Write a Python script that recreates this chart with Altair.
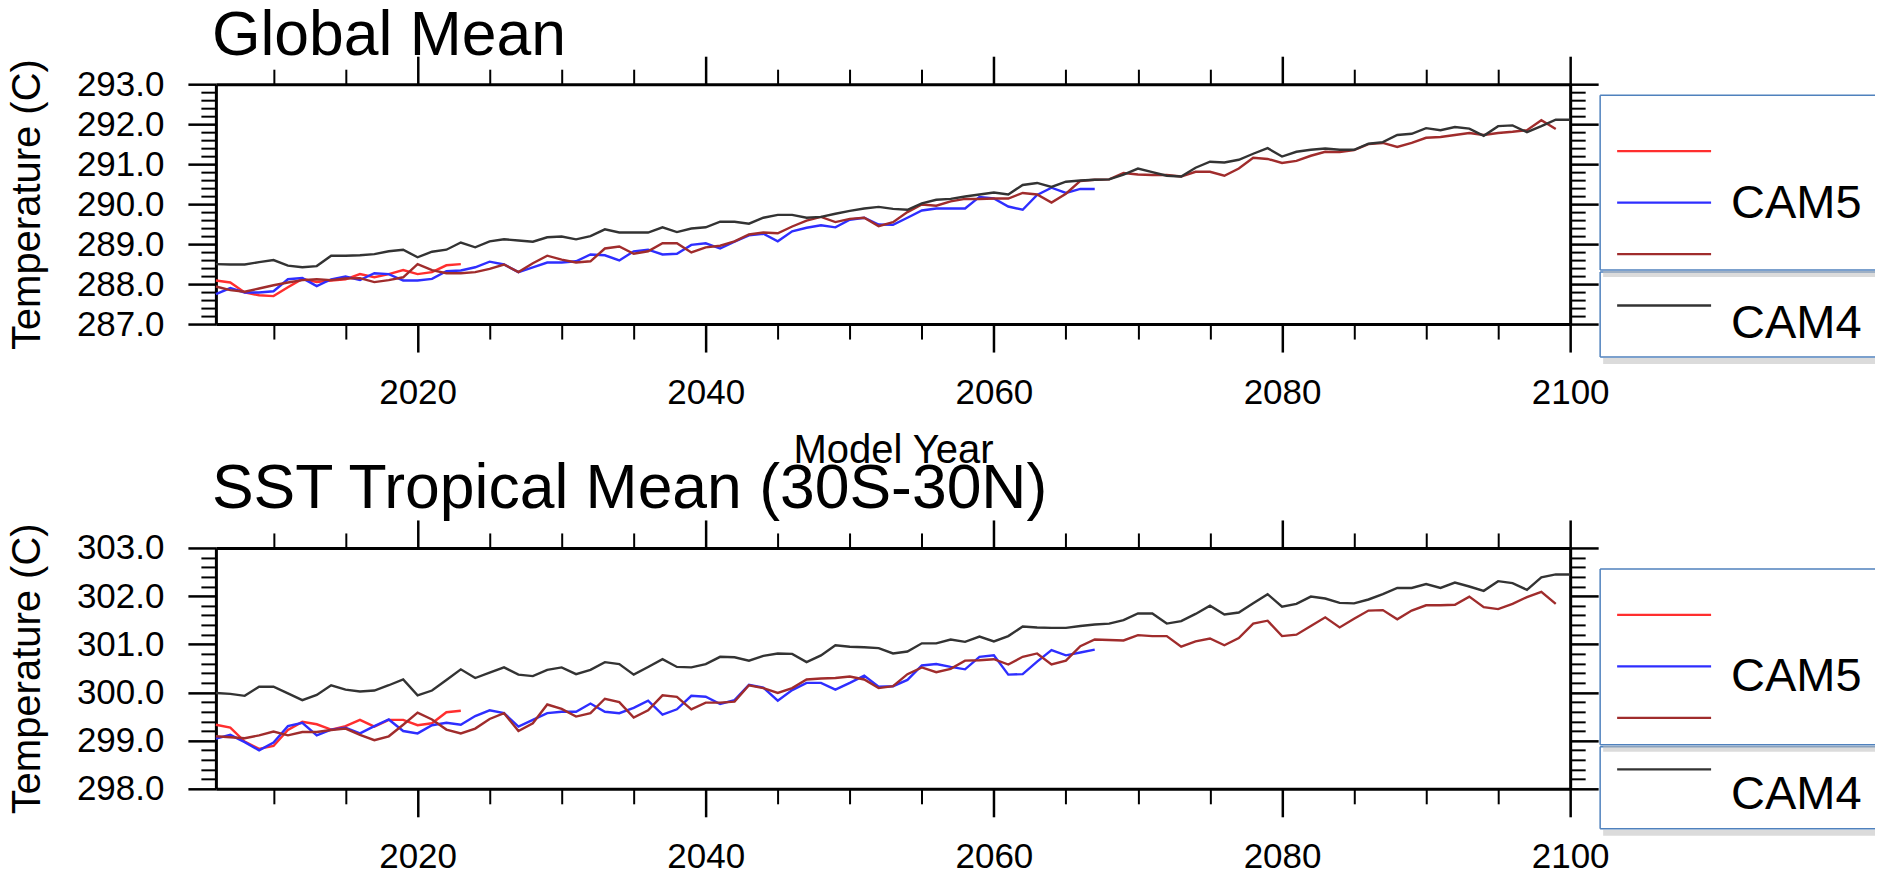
import altair as alt
import pandas as pd

FONT = "Liberation Sans"
FIRST_YEAR = 2006
X_DOMAIN = [2006, 2100]
X_MAJOR = [2020, 2040, 2060, 2080, 2100]
X_MINOR = [2010, 2015, 2025, 2030, 2035, 2045, 2050, 2055, 2065, 2070, 2075, 2085, 2090, 2095]

GM_DOMAIN = [287, 293]
GM_MAJOR = [287, 288, 289, 290, 291, 292, 293]
SST_DOMAIN = [298, 303]
SST_MAJOR = [298, 299, 300, 301, 302, 303]

RUN_NAMES = ["CAM5 run 1", "CAM5 run 2", "CAM5 run 3"]
CAM5_COLORS = ["#ff2e2e", "#2e2eff", "#a02c2c"]
CAM4_NAME = "CAM4"
CAM4_COLOR = "#333333"
BOX_COLOR = "#4f81bd"

# legend content (one entry per plotted run, in drawing order)
LEGEND_SLOTS = [0, 1, 2, 3]
LEGEND_COLORS = CAM5_COLORS + [CAM4_COLOR]
LEGEND_TEXT = ["CAM5", "CAM4"]

# ---------------- Global Mean (years from 2006) ----------------
gm_cam5_red = [288.09, 288.04, 287.79, 287.72, 287.70, 287.92, 288.13, 288.05, 288.09, 288.12,
               288.25, 288.17, 288.25, 288.35, 288.25, 288.30, 288.47, 288.50]
gm_cam5_blue = [287.75, 287.90, 287.79, 287.79, 287.82, 288.12, 288.15, 287.95, 288.12, 288.19,
                288.10, 288.27, 288.25, 288.09, 288.09, 288.13, 288.32, 288.34, 288.42, 288.56,
                288.49, 288.30, 288.42, 288.54, 288.54, 288.57, 288.74, 288.72, 288.59, 288.82,
                288.86, 288.74, 288.76, 288.98, 289.02, 288.89, 289.06, 289.22, 289.26, 289.07,
                289.32, 289.41, 289.47, 289.42, 289.61, 289.66, 289.49, 289.48, 289.66, 289.84,
                289.89, 289.89, 289.89, 290.18, 290.14, 289.94, 289.86, 290.23, 290.41, 290.28,
                290.38, 290.38]
gm_cam5_brown = [287.94, 287.85, 287.81, 287.89, 287.97, 288.04, 288.10, 288.12, 288.10, 288.14,
                 288.15, 288.05, 288.10, 288.17, 288.50, 288.35, 288.27, 288.27, 288.30, 288.38,
                 288.49, 288.30, 288.52, 288.71, 288.61, 288.54, 288.57, 288.89, 288.94, 288.76,
                 288.82, 289.02, 289.02, 288.79, 288.92, 288.96, 289.07, 289.24, 289.29, 289.27,
                 289.44, 289.59, 289.68, 289.55, 289.63, 289.66, 289.45, 289.55, 289.80, 289.99,
                 289.96, 290.07, 290.13, 290.13, 290.14, 290.14, 290.28, 290.24, 290.04, 290.26,
                 290.58, 290.61, 290.62, 290.78, 290.74, 290.73, 290.73, 290.69, 290.81, 290.81,
                 290.71, 290.89, 291.16, 291.13, 291.03, 291.08, 291.21, 291.31, 291.30, 291.35,
                 291.50, 291.53, 291.43, 291.53, 291.66, 291.68, 291.73, 291.78, 291.73, 291.78,
                 291.81, 291.85, 292.10, 291.88]
gm_cam4 = [288.50, 288.49, 288.49, 288.55, 288.60, 288.46, 288.42, 288.45, 288.71, 288.71,
           288.72, 288.75, 288.82, 288.86, 288.67, 288.81, 288.86, 289.04, 288.92, 289.07,
           289.12, 289.09, 289.06, 289.17, 289.19, 289.12, 289.20, 289.37, 289.29, 289.29,
           289.29, 289.42, 289.30, 289.39, 289.42, 289.56, 289.56, 289.51, 289.66, 289.73,
           289.73, 289.66, 289.68, 289.76, 289.83, 289.89, 289.93, 289.88, 289.86, 290.02,
           290.11, 290.13, 290.19, 290.24, 290.29, 290.24, 290.48, 290.53, 290.43, 290.56,
           290.59, 290.61, 290.62, 290.74, 290.89, 290.80, 290.71, 290.69, 290.91, 291.06,
           291.04, 291.11, 291.26, 291.40, 291.19, 291.31, 291.36, 291.39, 291.36, 291.36,
           291.51, 291.55, 291.73, 291.76, 291.90, 291.85, 291.93, 291.89, 291.71, 291.95,
           291.97, 291.80, 291.95, 292.11, 292.11]

# ---------------- SST Tropical Mean (years from 2006) ----------------
sst_cam5_red = [299.33, 299.27, 298.98, 298.83, 298.89, 299.22, 299.39, 299.34, 299.23, 299.30,
                299.43, 299.29, 299.43, 299.43, 299.32, 299.36, 299.59, 299.62]
sst_cam5_blue = [299.04, 299.12, 298.97, 298.80, 298.96, 299.30, 299.37, 299.11, 299.23, 299.27,
                 299.15, 299.30, 299.44, 299.20, 299.15, 299.32, 299.37, 299.33, 299.51, 299.63,
                 299.57, 299.29, 299.43, 299.57, 299.60, 299.60, 299.77, 299.60, 299.57, 299.68,
                 299.83, 299.54, 299.65, 299.93, 299.91, 299.76, 299.84, 300.16, 300.10, 299.83,
                 300.05, 300.20, 300.20, 300.06, 300.20, 300.35, 300.12, 300.13, 300.26, 300.56,
                 300.59, 300.53, 300.48, 300.74, 300.77, 300.37, 300.38, 300.64, 300.88, 300.77,
                 300.83, 300.89]
sst_cam5_brown = [299.09, 299.07, 299.05, 299.11, 299.19, 299.11, 299.18, 299.18, 299.22, 299.25,
                  299.12, 299.01, 299.09, 299.33, 299.58, 299.44, 299.23, 299.15, 299.25, 299.45,
                  299.57, 299.20, 299.36, 299.75, 299.66, 299.50, 299.57, 299.87, 299.80, 299.48,
                  299.63, 299.94, 299.91, 299.65, 299.79, 299.79, 299.81, 300.15, 300.09, 299.99,
                  300.09, 300.27, 300.29, 300.30, 300.33, 300.27, 300.09, 300.13, 300.38, 300.52,
                  300.42, 300.49, 300.66, 300.67, 300.69, 300.58, 300.74, 300.81, 300.58, 300.66,
                  300.96, 301.10, 301.09, 301.08, 301.19, 301.17, 301.17, 300.95, 301.06, 301.12,
                  300.98, 301.13, 301.43, 301.49, 301.17, 301.20, 301.38, 301.56, 301.35, 301.53,
                  301.70, 301.71, 301.52, 301.70, 301.81, 301.81, 301.82, 301.99, 301.77, 301.73,
                  301.84, 301.98, 302.09, 301.84]
sst_cam4 = [299.99, 299.97, 299.93, 300.12, 300.12, 299.98, 299.84, 299.95, 300.15, 300.06,
            300.02, 300.04, 300.15, 300.27, 299.94, 300.04, 300.26, 300.48, 300.30, 300.41,
            300.52, 300.37, 300.34, 300.47, 300.52, 300.38, 300.47, 300.63, 300.59, 300.37,
            300.53, 300.69, 300.53, 300.52, 300.59, 300.74, 300.73, 300.66, 300.76, 300.81,
            300.80, 300.63, 300.77, 300.98, 300.95, 300.94, 300.92, 300.81, 300.85, 301.02,
            301.02, 301.10, 301.05, 301.16, 301.06, 301.17, 301.37, 301.35, 301.34, 301.34,
            301.38, 301.41, 301.43, 301.50, 301.64, 301.64, 301.43, 301.48, 301.63, 301.80,
            301.62, 301.66, 301.85, 302.04, 301.78, 301.84, 301.99, 301.95, 301.86, 301.85,
            301.93, 302.04, 302.17, 302.17, 302.25, 302.17, 302.28, 302.20, 302.11, 302.31,
            302.27, 302.13, 302.39, 302.45, 302.45]


def long_df(series, names):
    rows = []
    for vals, name in zip(series, names):
        for i, v in enumerate(vals):
            rows.append({"Year": FIRST_YEAR + i, "Temp": v, "Run": name})
    return pd.DataFrame(rows)


def minor_ticks(major):
    return [round(m + 0.2 * k, 1) for m in major[:-1] for k in range(1, 5)]


def axis(orient, values, size, major, labels=False, title=None, **extra):
    props = dict(orient=orient, values=values, tickSize=size,
                 tickWidth=2.5 if major else 2, tickColor="black",
                 domain=major, domainColor="black", domainWidth=3,
                 grid=False, labels=labels, title=title)
    if labels:
        props.update(labelFont=FONT, labelFontSize=35, labelColor="black",
                     labelFlush=False, labelOverlap=False, labelBound=False)
    if title is not None:
        props.update(titleFont=FONT, titleFontSize=40, titleFontWeight="normal",
                     titleColor="black", titleBaseline="alphabetic")
    props.update(extra)
    return alt.Axis(**props)


BOX_X1, BOX_X2 = 1385, 1660


def legend_layers(box1, box2, text_y):
    one = pd.DataFrame({"item": ["box"]})
    layers = []
    # shadows + boxes (box2 first so that box1's shadow falls on it);
    # the boxes run on past the right edge of the picture, so no right border
    for (y1, y2) in [box2, box1]:
        layers.append(alt.Chart(one).mark_rect(fill="#bdbdbd", opacity=0.55).encode(
            x=alt.value(BOX_X1 + 3), x2=alt.value(BOX_X2), y=alt.value(y2 + 1), y2=alt.value(y2 + 7)))
        layers.append(alt.Chart(one).mark_rect(fill="white").encode(
            x=alt.value(BOX_X1), x2=alt.value(BOX_X2), y=alt.value(y1), y2=alt.value(y2)))
        for yy in (y1, y2):
            layers.append(alt.Chart(one).mark_rule(color=BOX_COLOR, strokeWidth=1.5).encode(
                x=alt.value(BOX_X1), x2=alt.value(BOX_X2), y=alt.value(yy)))
        layers.append(alt.Chart(one).mark_rule(color=BOX_COLOR, strokeWidth=1.5).encode(
            x=alt.value(BOX_X1), y=alt.value(y1), y2=alt.value(y2)))
    leg = pd.DataFrame({"slot": LEGEND_SLOTS, "color": LEGEND_COLORS})
    layers.append(alt.Chart(leg).mark_rule(strokeWidth=2.4).encode(
        x=alt.value(1402), x2=alt.value(1496),
        y=alt.Y("slot:Q", scale=alt.Scale(domain=[0, 3], range=[67, 221.5]), axis=None),
        color=alt.Color("color:N", scale=None, legend=None)))
    for label, ty in zip(LEGEND_TEXT, text_y):
        txt = pd.DataFrame({"label": [label]})
        layers.append(alt.Chart(txt).mark_text(font=FONT, fontSize=47, align="left",
                                               baseline="middle", color="black").encode(
            x=alt.value(1516), y=alt.value(ty), text="label:N"))
    return layers


def panel(title, title_y, cam5_df, cam4_df, ydom, ymajor, height, xtitle, box1, box2, text_y):
    xs = alt.Scale(domain=X_DOMAIN, nice=False, zero=False)
    ys = alt.Scale(domain=ydom, nice=False, zero=False)
    yminor = minor_ticks(ymajor)

    xb_major_kw = dict(format="d", labelPadding=23)
    if xtitle is not None:
        xb_major_kw.update(titleX=677.5, titleY=139)
    xb_major = axis("bottom", X_MAJOR, 28, True, labels=True, title=xtitle, **xb_major_kw)
    yl_major = axis("left", ymajor, 28, True, labels=True, title="Temperature (C)",
                    format=".1f", labelPadding=24, titleX=-176, titleY=height / 2,
                    titleAngle=270, titleAlign="center")
    xb_minor = axis("bottom", X_MINOR, 15, False)
    yl_minor = axis("left", yminor, 15, False)
    xt_major = axis("top", X_MAJOR, 28, True)
    yr_major = axis("right", ymajor, 28, True)
    xt_minor = axis("top", X_MINOR, 15, False)
    yr_minor = axis("right", yminor, 15, False)

    l1 = alt.Chart(cam5_df).mark_line(strokeWidth=2.4).encode(
        x=alt.X("Year:Q", scale=xs, axis=xb_major),
        y=alt.Y("Temp:Q", scale=ys, axis=yl_major),
        color=alt.Color("Run:N", scale=alt.Scale(domain=RUN_NAMES, range=CAM5_COLORS), legend=None),
    )
    l2 = alt.Chart(cam4_df).mark_line(strokeWidth=2.4, color=CAM4_COLOR).encode(
        x=alt.X("Year:Q", scale=xs, axis=None),
        y=alt.Y("Temp:Q", scale=ys, axis=None),
    )
    l3 = alt.Chart(cam4_df).mark_line(opacity=0).encode(
        x=alt.X("Year:Q", scale=xs, axis=xb_minor), y=alt.Y("Temp:Q", scale=ys, axis=yl_minor))
    l4 = alt.Chart(cam4_df).mark_line(opacity=0).encode(
        x=alt.X("Year:Q", scale=xs, axis=xt_major), y=alt.Y("Temp:Q", scale=ys, axis=yr_major))
    l5 = alt.Chart(cam4_df).mark_line(opacity=0).encode(
        x=alt.X("Year:Q", scale=xs, axis=xt_minor), y=alt.Y("Temp:Q", scale=ys, axis=yr_minor))

    ttl = alt.Chart(pd.DataFrame({"title": [title]})).mark_text(
        font=FONT, fontSize=62.5, align="left", baseline="alphabetic", color="black"
    ).encode(x=alt.value(-4), y=alt.value(title_y), text="title:N")

    layers = [l1, l2, l3, l4, l5, ttl] + legend_layers(box1, box2, text_y)
    return alt.layer(*layers).resolve_scale(
        y="independent", color="independent"
    ).resolve_axis(
        x="independent", y="independent"
    ).properties(width=1355, height=height)


gm5 = long_df([gm_cam5_red, gm_cam5_blue, gm_cam5_brown], RUN_NAMES)
gm4 = long_df([gm_cam4], [CAM4_NAME])
sst5 = long_df([sst_cam5_red, sst_cam5_blue, sst_cam5_brown], RUN_NAMES)
sst4 = long_df([sst_cam4], [CAM4_NAME])

top = panel("Global Mean", -29, gm5, gm4, GM_DOMAIN, GM_MAJOR, 240, "Model Year",
            (11, 186), (188, 273), (120, 239.5))
bottom = panel("SST Tropical Mean (30S-30N)", -40, sst5, sst4, SST_DOMAIN, SST_MAJOR, 241, None,
               (21, 197), (199, 281), (129, 247.5))

chart = alt.vconcat(top, bottom, spacing=224, bounds="flush").resolve_scale(
    color="independent"
).properties(padding={"left": 0, "top": -3, "right": 0, "bottom": 0}).configure_view(stroke=None)

chart.save("out.html", embed_options={"renderer": "svg", "actions": False})
